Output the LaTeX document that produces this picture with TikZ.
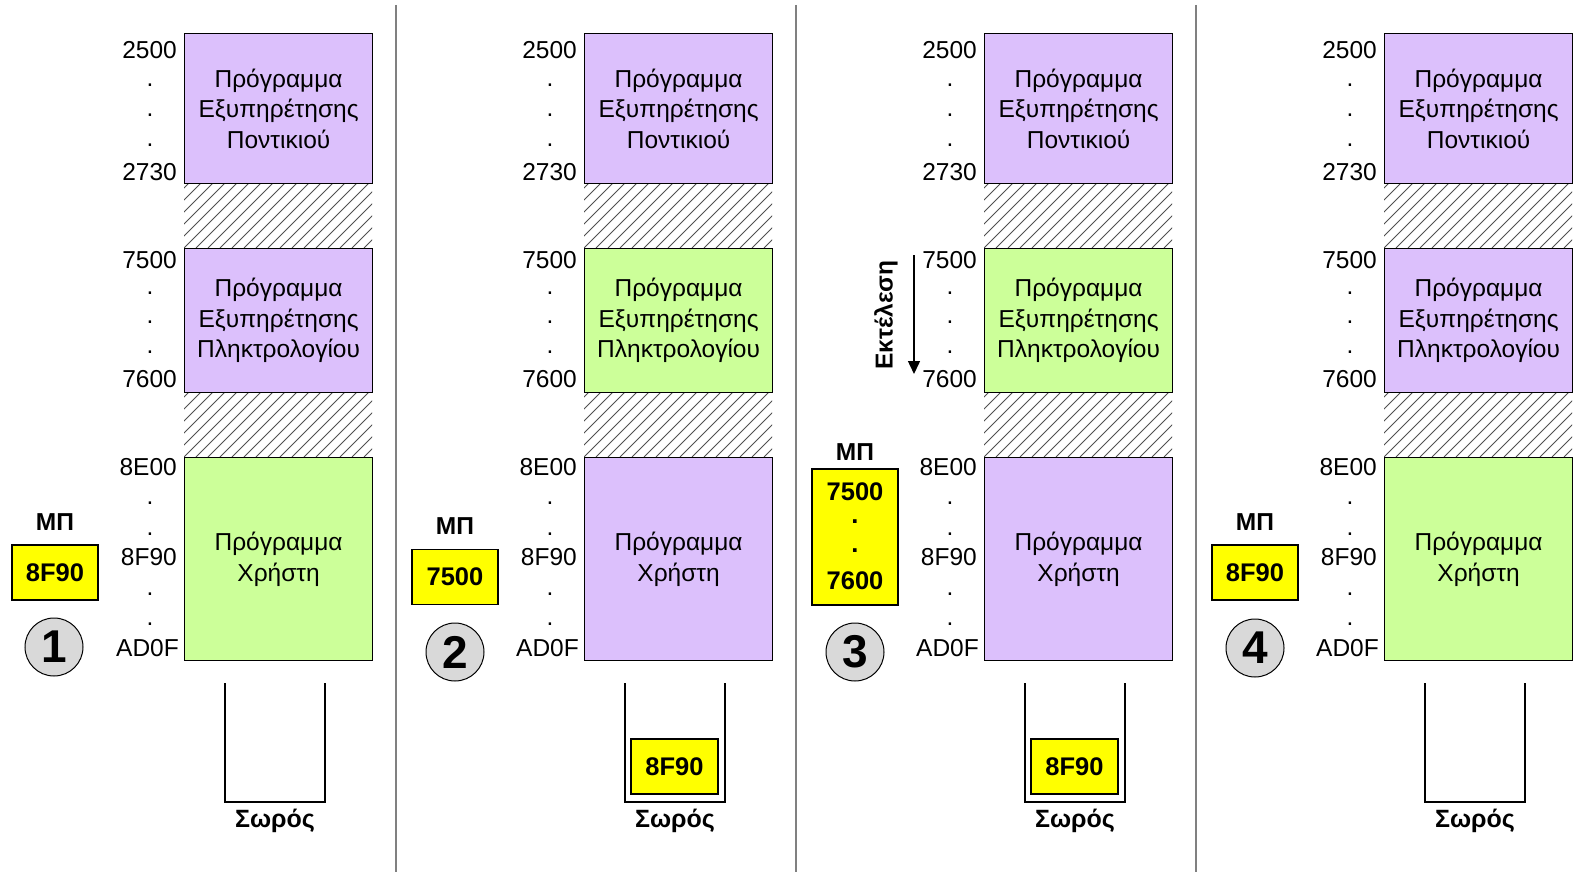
\documentclass[tikz,border=0pt]{standalone}
\usepackage{fontspec}
\setmainfont{Liberation Sans}
\usetikzlibrary{arrows.meta}
\definecolor{purp}{HTML}{DCC0FC}
\definecolor{grn}{HTML}{CCFF99}
\definecolor{ylw}{HTML}{FFFF00}
\definecolor{circgray}{HTML}{D9D9D9}
\definecolor{sepgray}{HTML}{808080}
\definecolor{hatchgray}{HTML}{505050}
\begin{document}
\begin{tikzpicture}[x=1pt,y=-1pt,
  membox/.style={draw=black, line width=1.2pt, inner sep=0pt, align=center,
     font=\fontsize{24.5}{30.5}\selectfont, anchor=north west, minimum width=188pt},
  addr/.style={inner sep=0pt, font=\fontsize{24.5}{26}\selectfont},
  hatchline/.style={draw=hatchgray, line width=0.85pt},
  sepline/.style={draw=sepgray, line width=1.6pt},
  mplabel/.style={inner sep=0pt, font=\bfseries\fontsize{24.5}{26}\selectfont},
  ybox/.style={draw=black, fill=ylw, line width=1.2pt, inner sep=0pt},
  ytext/.style={inner sep=0pt, font=\bfseries\fontsize{25.5}{27}\selectfont},
  numcirc/.style={circle, draw=black, fill=circgray, line width=1pt, minimum size=58pt,
     inner sep=0pt, font=\bfseries\fontsize{46}{48}\selectfont},
  stackline/.style={draw=black, line width=2.6pt},
  stacklabel/.style={inner sep=0pt, font=\bfseries\fontsize{25}{27}\selectfont},
  execlabel/.style={inner sep=0pt, font=\bfseries\fontsize{24.5}{26}\selectfont, rotate=90}
]
\useasboundingbox (0,0) rectangle (1587,872);
\fill[white] (0,0) rectangle (1587,872);

% separators
\foreach \sx/\n in {396/a,796/b,1196/c}{
  \coordinate (sep\n-t) at (\sx,5);
  \coordinate (sep\n-b) at (\sx,872);
  \draw[sepline] (sep\n-t) -- (sep\n-b);
}

% common panel content
\foreach \i/\ox/\ctwo/\cthree in {1/0/purp/grn, 2/400/grn/purp, 3/800/grn/purp, 4/1200/purp/grn}{
\begin{scope}[xshift=\ox]
  % hatched gaps
  \begin{scope}
    \clip (184,183) rectangle (372,248);
    \foreach \k in {-6,...,17}{
      \draw[hatchline] (184+\k*12,248) -- ++(70,-70);
    }
  \end{scope}
  \begin{scope}
    \clip (184,392) rectangle (372,457);
    \foreach \k in {-6,...,17}{
      \draw[hatchline] (184+\k*12,457) -- ++(70,-70);
    }
  \end{scope}
  % memory boxes
  \node[membox, fill=purp, minimum height=150pt] (mA-\i) at (184,33)
     {Πρόγραμμα\\Εξυπηρέτησης\\Ποντικιού};
  \node[membox, fill=\ctwo, minimum height=144pt] (mB-\i) at (184,248)
     {Πρόγραμμα\\Εξυπηρέτησης\\Πληκτρολογίου};
  \node[membox, fill=\cthree, minimum height=203pt] (mC-\i) at (184,457)
     {Πρόγραμμα\\Χρήστη};
  % addresses
  \node[addr, anchor=east] (a2500-\i) at (177,50) {2500};
  \node[addr] (d1-\i) at (150,85) {.};
  \node[addr] (d2-\i) at (150,115) {.};
  \node[addr] (d3-\i) at (150,145) {.};
  \node[addr, anchor=east] (a2730-\i) at (177,172) {2730};
  \node[addr, anchor=east] (a7500-\i) at (177,260) {7500};
  \node[addr] (d4-\i) at (150,293) {.};
  \node[addr] (d5-\i) at (150,322) {.};
  \node[addr] (d6-\i) at (150,352) {.};
  \node[addr, anchor=east] (a7600-\i) at (177,379) {7600};
  \node[addr, anchor=east] (a8E00-\i) at (177,467) {8E00};
  \node[addr] (d7-\i) at (150,503) {.};
  \node[addr] (d8-\i) at (150,534) {.};
  \node[addr, anchor=east] (a8F90-\i) at (177,557) {8F90};
  \node[addr] (d9-\i) at (150,594) {.};
  \node[addr] (d10-\i) at (150,624) {.};
  \node[addr, anchor=east] (aAD0F-\i) at (179,648) {AD0F};
  % stack
  \coordinate (sA-\i) at (225,683);
  \coordinate (sB-\i) at (225,802);
  \coordinate (sC-\i) at (325,802);
  \coordinate (sD-\i) at (325,683);
  \draw[stackline] (sA-\i) -- (sB-\i) -- (sC-\i) -- (sD-\i);
  \node[stacklabel] (stl-\i) at (275,821) {Σωρός};
\end{scope}
}

% panel 1
\node[mplabel] (mp1) at (55,522) {ΜΠ};
\node[ybox, minimum width=86pt, minimum height=55pt] (pc1) at (55,572.5) {};
\node[ytext] (pc1t) at (pc1) {8F90};
\node[numcirc] (n1) at (54,647) {1};

% panel 2
\node[mplabel] (mp2) at (455,526) {ΜΠ};
\node[ybox, minimum width=86pt, minimum height=55pt] (pc2) at (455,577) {};
\node[ytext] (pc2t) at (pc2) {7500};
\node[numcirc] (n2) at (455,652) {2};
\node[ybox, minimum width=87pt, minimum height=55pt] (st2) at (674.5,766.5) {};
\node[ytext] (st2t) at (st2) {8F90};

% panel 3
\node[mplabel] (mp3) at (855,452) {ΜΠ};
\node[ybox, minimum width=86pt, minimum height=136pt] (pc3) at (855,537) {};
\node[ytext] (pc3a) at (855,492) {7500};
\node[ytext] (pc3b) at (855,522) {.};
\node[ytext] (pc3c) at (855,551) {.};
\node[ytext] (pc3d) at (855,581) {7600};
\node[numcirc] (n3) at (855,652) {3};
\node[ybox, minimum width=87pt, minimum height=55pt] (st3) at (1074.5,766.5) {};
\node[ytext] (st3t) at (st3) {8F90};
\coordinate (exs) at (914,255);
\coordinate (exe) at (914,374);
\draw[line width=1.5pt, -{Triangle[length=13pt,width=12pt]}] (exs) -- (exe);
\node[execlabel] (exl) at (886,315) {Εκτέλεση};

% panel 4
\node[mplabel] (mp4) at (1255,522) {ΜΠ};
\node[ybox, minimum width=86pt, minimum height=55pt] (pc4) at (1255,572.5) {};
\node[ytext] (pc4t) at (pc4) {8F90};
\node[numcirc] (n4) at (1255,648) {4};
\end{tikzpicture}
\end{document}
